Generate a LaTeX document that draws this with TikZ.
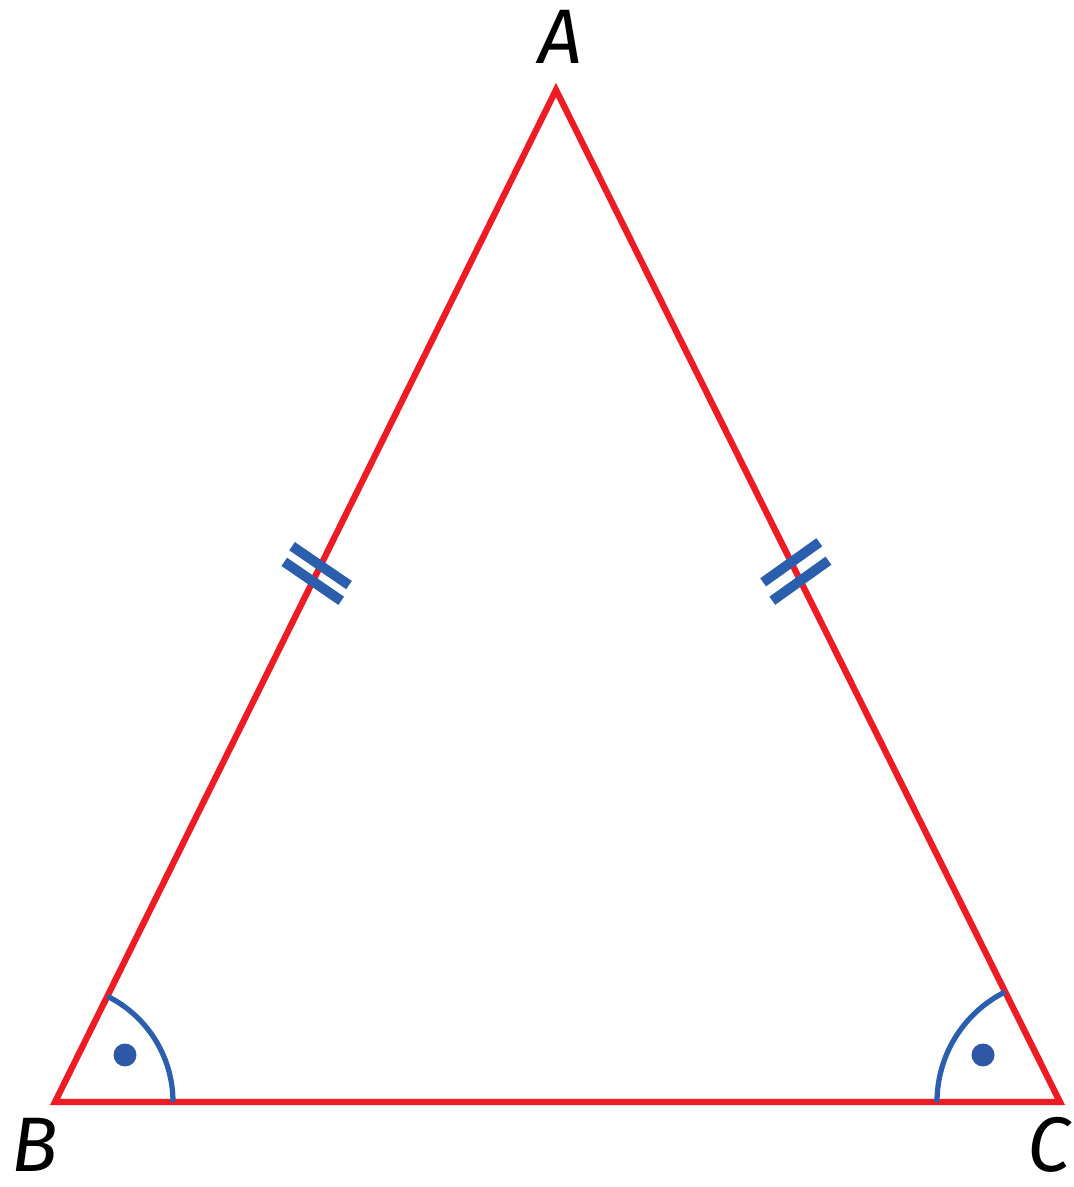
\documentclass[tikz,border=0pt]{standalone}
\usepackage{fontspec}
\setmainfont{Fira Sans}
\usepackage{xcolor}
\usepackage{tikz}
\usetikzlibrary{calc}
\definecolor{sidered}{HTML}{ED1C24}
\definecolor{markblue}{HTML}{2B5FAD}
\definecolor{dotblue}{HTML}{2E58A6}
\tikzset{
  side/.style={
    draw=sidered,
    line width=3.6pt,
    line join=miter
  },
  tickmark/.style={
    rectangle,
    fill=markblue,
    inner sep=0pt,
    minimum width=0.2cm,
    minimum height=1.38cm,
    sloped
  },
  anglearc/.style={draw=markblue, line width=3pt},
  angledot/.style={circle, fill=dotblue, inner sep=0pt, minimum size=0.46cm},
  vertex/.style={font=\fontsize{44}{44}\selectfont\itshape, inner sep=0pt}
}

\begin{document}
\begin{tikzpicture}[x=0.02cm,y=0.02cm]
\useasboundingbox (0,0) rectangle (1074,1187);

\coordinate (A) at (556,1097);
\coordinate (B) at (55,85);
\coordinate (C) at (1060,85);

% triangle
\draw[side] (A) -- (B) -- (C) -- cycle;

% equal sides AB and AC
\path (B) -- (A)
  node[tickmark, pos=0.5145, rotate=-8] (ab1) {}
  node[tickmark, pos=0.530, rotate=-8] (ab2) {};
\path (A) -- (C)
  node[tickmark, pos=0.4667, rotate=9] (ac1) {}
  node[tickmark, pos=0.4849, rotate=9] (ac2) {};

% base angles
\draw[anglearc] ([shift={(0:118)}]B) arc (0:63.7:118);
\draw[anglearc] ([shift={(180:123)}]C) arc (180:116.5:123);
\node[angledot] (dotB) at ($(B)+(70,47)$) {};
\node[angledot] (dotC) at ($(C)+(-77,47)$) {};

% labels
\node[vertex] (labA) at (560,1150) {A};
\node[vertex] (labB) at (35,42) {B};
\node[vertex] (labC) at (1049,42) {C};

\end{tikzpicture}
\end{document}
